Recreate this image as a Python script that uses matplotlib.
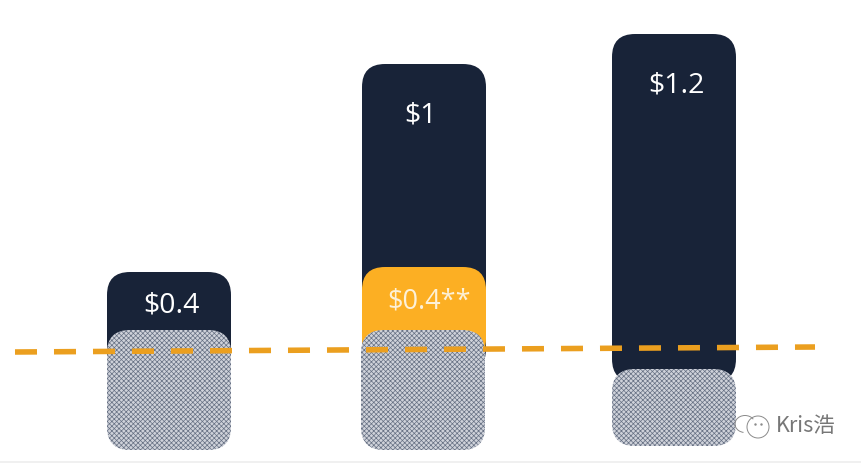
import matplotlib
matplotlib.use('Agg')
import matplotlib.pyplot as plt
from matplotlib.patches import FancyBboxPatch, Circle, Arc

# everything, y runs downward like the image
bar_left = [107, 362, 612]
bar_top = [272, 64, 34]
bar_bottom = [372, 372, 382]
bar_labels = ['$0.4', '$1', '$1.2']
label_x = [171, 421, 676]
label_y = [306, 115, 86]

hatch_left = [107, 361, 612]
hatch_top = [330, 330, 369]
hatch_bottom = [450, 450, 446]

extra_left = 362
extra_top = 267
extra_bottom = 362
extra_label = '$0.4**'

line_x = [15, 815]
line_y = [352, 347]

DARK = '#182338'
YELLOW = '#fcaf23'
ORANGE = '#eb9f1f'
WIDTH = 124

plt.rcParams['font.family'] = ['Open Sans', 'DejaVu Sans']
plt.rcParams['hatch.linewidth'] = 0.5


def rounded(ax, x, top, bottom, z, **kw):
	box = FancyBboxPatch((x, top), WIDTH, bottom - top,
		boxstyle='round,pad=0,rounding_size=23', zorder=z, **kw)
	ax.add_patch(box)


fig = plt.figure(figsize=(8.62, 4.63), dpi=100)
ax = fig.add_axes([0, 0, 1, 1])
ax.set_xlim(0, 862)
ax.set_ylim(463, 0)
ax.axis('off')

for i in range(3):
	rounded(ax, bar_left[i], bar_top[i], bar_bottom[i], 1, facecolor=DARK, linewidth=0)
	ax.text(label_x[i], label_y[i], bar_labels[i],
		color='white', fontsize=20.5, ha='center', va='center', zorder=5)

rounded(ax, extra_left, extra_top, extra_bottom, 2, facecolor=YELLOW, linewidth=0)
ax.text(429, 302, extra_label, color='#fdf1d8', fontsize=19.5,
	ha='center', va='center', zorder=5)

for i in range(3):
	rounded(ax, hatch_left[i], hatch_top[i], hatch_bottom[i], 3, facecolor='#cfd2da',
		edgecolor='#667083', hatch='xxxxxxx', linewidth=0)

ax.plot(line_x, line_y, color=ORANGE, linewidth=4, zorder=4,
	linestyle=(0, (3.96, 3.06)), dash_capstyle='butt')

# watermark
GREY = '#8a8a8a'
ax.add_patch(Arc((745, 424), 20, 17, theta1=100, theta2=330, color=GREY, lw=0.7, zorder=6))
ax.add_patch(Circle((758, 427), 11, fill=False, edgecolor=GREY, lw=0.7, zorder=6))
ax.plot([755, 761], [424, 424], linestyle='none', marker='.', markersize=1.5, color=GREY, zorder=6)
ax.text(776, 426, 'Kris浩', color='#777777', fontsize=15.5, va='center', ha='left', zorder=6,
	family=['Noto Sans CJK SC', 'DejaVu Sans'], fontweight='light')

# thin strip at the bottom edge
ax.axhspan(461, 463, color='#f0f0f0', linewidth=0, zorder=0)

fig.savefig('out.png', dpi=100)
